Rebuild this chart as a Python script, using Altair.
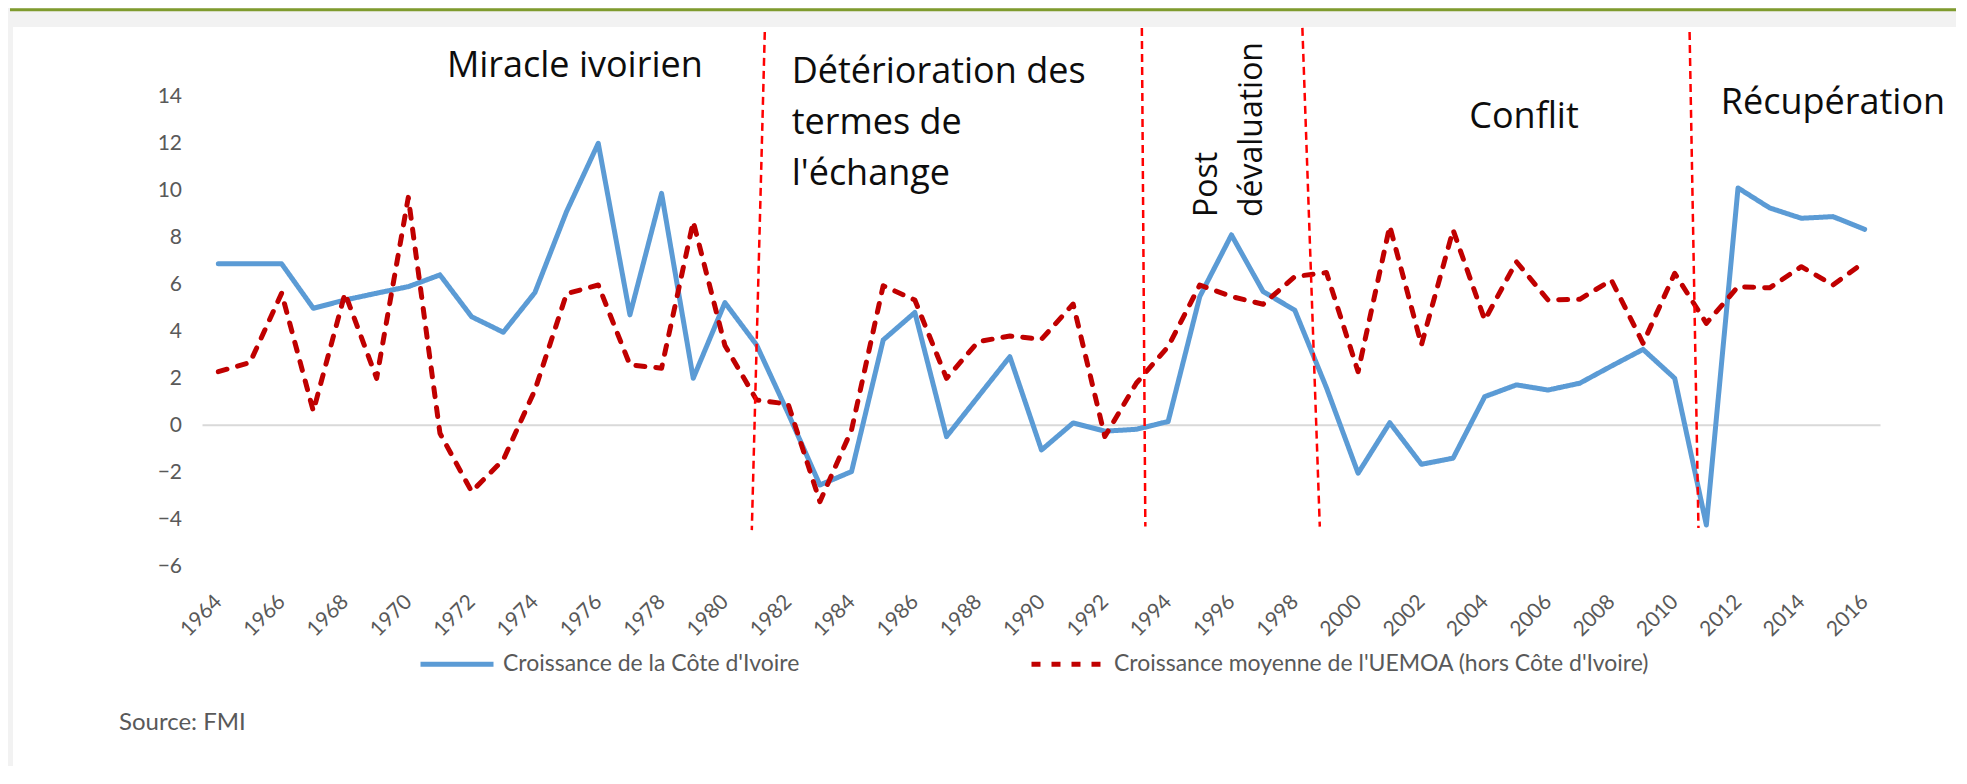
import altair as alt
import pandas as pd

# ---------------- data ----------------
years = list(range(1964, 2017))

civ_growth = [6.87, 6.87, 6.87, 4.98, 5.33, 5.62, 5.9, 6.4, 4.62, 3.96,
              5.65, 9.1, 12.0, 4.7, 9.87, 2.0, 5.22, 3.42, 0.5, -2.54,
              -1.97, 3.63, 4.8, -0.48, 1.22, 2.92, -1.05, 0.1, -0.25, -0.17,
              0.16, 5.48, 8.1, 5.69, 4.9, 1.6, -2.04, 0.11, -1.66, -1.4,
              1.22, 1.72, 1.5, 1.79, 2.52, 3.23, 2.0, -4.24, 10.1, 9.25,
              8.81, 8.88, 8.34]

uemoa_growth = [2.28, 2.67, 5.62, 0.6, 5.62, 2.0, 9.7, -0.34, -2.82, -1.47,
                1.5, 5.6, 5.97, 2.57, 2.43, 8.67, 3.4, 1.08, 0.9, -3.25,
                -0.2, 5.94, 5.33, 2.0, 3.56, 3.8, 3.66, 5.16, -0.48, 1.8,
                3.35, 5.97, 5.48, 5.15, 6.33, 6.5, 2.28, 8.48, 3.42, 8.31,
                4.48, 6.96, 5.33, 5.36, 6.18, 3.49, 6.47, 4.34, 5.9, 5.85,
                6.75, 5.97, 6.96]

series_names = ["Croissance de la Côte d'Ivoire",
                "Croissance moyenne de l'UEMOA (hors Côte d'Ivoire)"]

x_tick_years = list(range(1964, 2017, 2))
y_ticks = list(range(-6, 15, 2))

# period boundaries (hand-drawn dashed lines), in data units
bound_x_top = [1981.26, 1993.17, 1998.24, 2010.47]
bound_x_bottom = [1980.85, 1993.28, 1998.79, 2010.75]
bound_y_top = [16.74, 16.91, 16.91, 16.74]
bound_y_bottom = [-4.46, -4.31, -4.31, -4.37]

# period labels
center_labels = ["Miracle ivoirien", "Conflit", "Récupération"]
center_x = [1975.26, 2005.24, 2015.0]
center_y = [14.82, 12.65, 13.25]

left_labels = ["Détérioration des\ntermes de\nl'échange"]
left_x = [1982.11]
left_y = [14.58]

rot_labels = ["Post\ndévaluation"]
rot_x = [1995.53]
rot_y = [8.86]

source_text = "Source: FMI"

# ---------------- tables ----------------
df = pd.DataFrame({
    "year": years * 2,
    "value": civ_growth + uemoa_growth,
    "series": [series_names[0]] * len(years) + [series_names[1]] * len(years),
})
bounds = pd.DataFrame({"xt": bound_x_top, "xb": bound_x_bottom,
                       "yt": bound_y_top, "yb": bound_y_bottom})
df_center = pd.DataFrame({"label": center_labels, "x": center_x, "y": center_y})
df_left = pd.DataFrame({"label": left_labels, "x": left_x, "y": left_y})
df_rot = pd.DataFrame({"label": rot_labels, "x": rot_x, "y": rot_y})
zero_df = pd.DataFrame({"v": [0]})
one = pd.DataFrame({"a": [0]})

# ---------------- scales / axes ----------------
xscale = alt.Scale(domain=[1963.5, 2016.5], nice=False, zero=False)
yscale = alt.Scale(domain=[-6, 14], nice=False, zero=False)

GRAY = "#595959"
x_axis = alt.Axis(values=x_tick_years, format="d", labelAngle=315,
                  labelAlign="right", labelBaseline="middle", labelPadding=32,
                  labelFont="Lato", labelFontSize=21, labelColor=GRAY,
                  domain=False, ticks=False, tickSize=0, grid=False, title=None,
                  labelOverlap=False, labelFlush=False, labelBound=False,
                  zindex=1)
y_axis = alt.Axis(values=y_ticks, labelPadding=21, labelFont="Lato",
                  labelFontSize=21, labelColor=GRAY, domain=False, ticks=False,
                  tickSize=0, grid=False, title=None, zindex=1)

legend = alt.Legend(title=None, orient="none", legendX=215.5, legendY=529,
                    direction="horizontal", symbolType="stroke",
                    symbolSize=5329, symbolStrokeWidth=5, labelFont="Lato",
                    labelFontSize=23, labelColor=GRAY, labelOffset=7,
                    labelLimit=1000, columnPadding=221, padding=0, zindex=1)

# ---------------- layers ----------------
panel = alt.Chart(one).mark_rect(color="white").encode(
    x=alt.value(-189.5), x2=alt.value(1800), y=alt.value(-69.3), y2=alt.value(700))

top_line = alt.Chart(one).mark_rule(color="#7f9b2e", strokeWidth=3).encode(
    x=alt.value(-192.5), x2=alt.value(1800), y=alt.value(-86.5))

zero_line = alt.Chart(zero_df).mark_rule(color="#d9d9d9", strokeWidth=2).encode(
    y=alt.Y("v:Q", scale=yscale, axis=y_axis))

lines = alt.Chart(df).mark_line(strokeWidth=5, strokeCap="round",
                                strokeJoin="round").encode(
    x=alt.X("year:Q", scale=xscale, axis=x_axis),
    y=alt.Y("value:Q", scale=yscale, axis=y_axis),
    color=alt.Color("series:N", scale=alt.Scale(domain=series_names,
                                                range=["#5B9BD5", "#C00000"]),
                    legend=legend),
    strokeDash=alt.StrokeDash("series:N",
                              scale=alt.Scale(domain=series_names,
                                              range=[[1, 0], [9, 11]]),
                              legend=legend),
)

bound_lines = alt.Chart(bounds).mark_rule(color="#ff0000", strokeWidth=2.5,
                                          strokeDash=[8, 5]).encode(
    x=alt.X("xt:Q", scale=xscale, axis=x_axis), x2="xb:Q",
    y=alt.Y("yt:Q", scale=yscale, axis=y_axis), y2="yb:Q")

txt_center = alt.Chart(df_center).mark_text(
    font="Open Sans", fontSize=36, color="#0d0d0d", align="center",
    baseline="alphabetic").encode(
    x=alt.X("x:Q", scale=xscale, axis=x_axis),
    y=alt.Y("y:Q", scale=yscale, axis=y_axis), text="label:N")

txt_left = alt.Chart(df_left).mark_text(
    font="Open Sans", fontSize=36, color="#0d0d0d", align="left",
    baseline="alphabetic", lineBreak="\n", lineHeight=51).encode(
    x=alt.X("x:Q", scale=xscale, axis=x_axis),
    y=alt.Y("y:Q", scale=yscale, axis=y_axis), text="label:N")

txt_rot = alt.Chart(df_rot).mark_text(
    font="Open Sans", fontSize=32, color="#0d0d0d", align="left",
    baseline="alphabetic", angle=270, lineBreak="\n", lineHeight=45).encode(
    x=alt.X("x:Q", scale=xscale, axis=x_axis),
    y=alt.Y("y:Q", scale=yscale, axis=y_axis), text="label:N")

source = alt.Chart(one).mark_text(
    font="Lato", fontSize=24, color=GRAY, align="left", baseline="middle",
    text=source_text).encode(x=alt.value(-83.5), y=alt.value(627))

chart = alt.layer(panel, top_line, zero_line, lines, bound_lines,
                  txt_center, txt_left, txt_rot, source).properties(
    width=1678, height=470,
    autosize=alt.AutoSizeParams(type="none"),
    padding={"left": 194.5, "top": 88.3, "right": 75, "bottom": 200},
    background="#f2f2f2",
).configure_view(stroke=None)

chart.save("out.html", embed_options={"renderer": "svg", "actions": False})
